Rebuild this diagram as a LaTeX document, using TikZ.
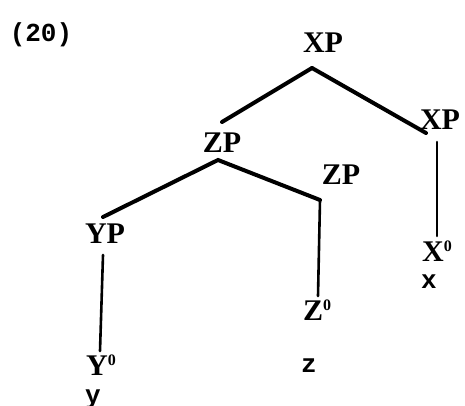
\documentclass[tikz,border=0pt]{standalone}
\usepackage{fontspec}
\setmainfont{Liberation Serif}
\setmonofont{Liberation Mono}
\newcommand{\barlevel}{\raisebox{0.75ex}{\fontsize{8}{8}\selectfont 0}}
\begin{document}
\begin{tikzpicture}[x=0.5pt, y=-0.5pt,
    cat/.style={font=\fontsize{15}{17}\selectfont\bfseries, inner sep=0pt},
    word/.style={font=\fontsize{13}{15}\selectfont\ttfamily\bfseries, inner sep=0pt},
    branch/.style={line width=2pt, line cap=round},
    stem/.style={line width=1.3pt, line cap=round}
]
\useasboundingbox (0,0) rectangle (465,406);
\node[word, font=\fontsize{13}{15}\selectfont\ttfamily\bfseries] (num) at (41,35) {(20)};
% category labels
\node[cat] (xp) at (323,43) {XP};
\node[cat] (xpbar) at (440,120) {XP};
\node[cat] (zp) at (222,143) {ZP};
\node[cat] (zpbar) at (341,175) {ZP};
\node[cat] (yp) at (105,234) {YP};
\node[cat] (x0) at (437,251) {X\barlevel};
\node[cat] (z0) at (317,310) {Z\barlevel};
\node[cat] (y0) at (101,365) {Y\barlevel};
% words
\node[word] (x) at (429,282) {x};
\node[word] (z) at (309,366) {z};
\node[word] (y) at (93,399) {y};
% junctions
\coordinate (xp-j) at (312,68);
\coordinate (zp-l) at (222,122);
\coordinate (xpbar-r) at (426,133);
\coordinate (xpbar-t) at (437,142);
\coordinate (x0-t) at (437,236);
\coordinate (zp-j) at (218,160);
\coordinate (yp-r) at (103,217);
\coordinate (zpbar-r) at (320,200);
\coordinate (z0-t) at (318,296);
\coordinate (yp-b) at (103,255);
\coordinate (y0-t) at (100,351);
% branches
\draw[branch] (xp-j) -- (zp-l);
\draw[branch] (xp-j) -- (xpbar-r);
\draw[stem] (xpbar-t) -- (x0-t);
\draw[branch] (yp-r) -- (zp-j) -- (zpbar-r);
\draw[stem] (zpbar-r) -- (z0-t);
\draw[stem] (yp-b) -- (y0-t);
\end{tikzpicture}
\end{document}
